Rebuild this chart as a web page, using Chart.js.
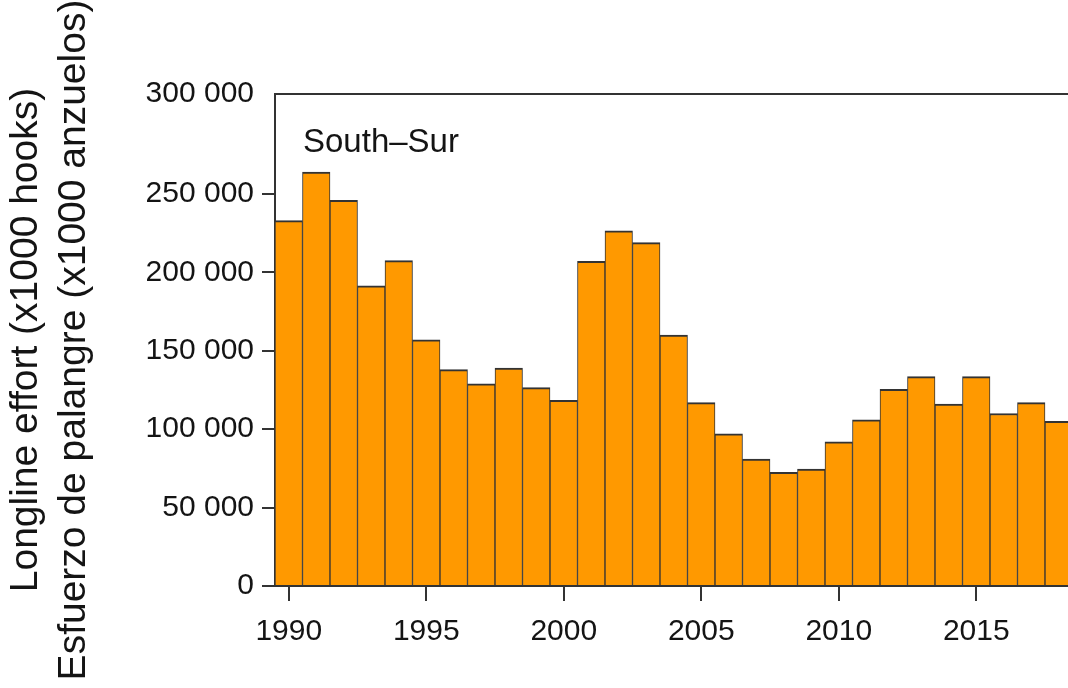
<!DOCTYPE html>
<html>
<head>
<meta charset="utf-8">
<script src="https://cdn.jsdelivr.net/npm/chart.js@4.4.1/dist/chart.umd.min.js"></script>
<style>
  html, body { margin: 0; padding: 0; background: #fff; overflow: hidden; }
  #wrap { width: 1100px; height: 688px; }
</style>
</head>
<body>
<div id="wrap"><canvas id="chart" width="1100" height="688"></canvas></div>
<script>
// Longline effort by year, southern area (thousands of hooks)
const years = [1990, 1991, 1992, 1993, 1994, 1995, 1996, 1997, 1998, 1999,
               2000, 2001, 2002, 2003, 2004, 2005, 2006, 2007, 2008, 2009,
               2010, 2011, 2012, 2013, 2014, 2015, 2016, 2017, 2018];
const effort = [233000, 264000, 246000, 191500, 207500, 157000, 138000, 129000, 139000, 126500,
                118500, 207000, 226500, 219000, 160000, 117000, 97000, 81000, 72500, 74500,
                92000, 106000, 125500, 133500, 116000, 133500, 110000, 117000, 105000];

// Axis ticks
const xTickYears = [1990, 1995, 2000, 2005, 2010, 2015];
const yTickValues = [0, 50000, 100000, 150000, 200000, 250000];
const yTickLabels = ['0', '50 000', '100 000', '150 000', '200 000', '250 000'];
const yTopValue = 313800;      // top edge of the panel
const yTopLabel = '300 000';   // label printed at the top edge

const panelLabel = 'South\u2013Sur';
const yTitle = ['Longline effort (x1000 hooks)', 'Esfuerzo de palangre (x1000 anzuelos)'];

const FONT = "'Liberation Sans', Arial, Helvetica, sans-serif";
const ink = '#141414';
const axisColor = '#333333';

// Top frame line and the panel name inside the plot
const panelDecor = {
  id: 'panelDecor',
  afterDraw(chart) {
    const { ctx, chartArea: a } = chart;
    ctx.save();
    ctx.strokeStyle = axisColor;
    ctx.lineWidth = 2;
    ctx.beginPath();
    ctx.moveTo(a.left - 1, a.top);
    ctx.lineTo(a.right, a.top);
    ctx.stroke();
    ctx.fillStyle = ink;
    ctx.font = '33px ' + FONT;
    ctx.textBaseline = 'alphabetic';
    ctx.textAlign = 'left';
    ctx.fillText(panelLabel, a.left + 28, a.top + 58);
    ctx.restore();
  }
};

new Chart(document.getElementById('chart'), {
  type: 'bar',
  data: {
    labels: years.map(String),
    datasets: [{
      data: effort,
      backgroundColor: '#ff9900',
      borderColor: '#333333',
      borderWidth: { top: 2, left: 1, right: 1, bottom: 0 },
      categoryPercentage: 1,
      barPercentage: 1
    }]
  },
  options: {
    responsive: false,
    animation: false,
    devicePixelRatio: 1,
    layout: { padding: { left: 0, top: 94, right: 27.5, bottom: 0 } },
    plugins: { legend: { display: false }, tooltip: { enabled: false } },
    scales: {
      x: {
        offset: true,
        z: 1,
        grid: { display: true, drawOnChartArea: false, offset: false, tickLength: 15, lineWidth: 2, color: axisColor },
        border: { display: true, color: axisColor, width: 2 },
        ticks: { autoSkip: false, maxRotation: 0, padding: 13, color: ink, font: { family: FONT, size: 30 } },
        afterBuildTicks(scale) {
          scale.ticks = scale.ticks.filter(t => xTickYears.includes(years[t.value]));
        },
        afterFit(scale) { scale.height = 102; }
      },
      y: {
        min: 0,
        max: yTopValue,
        z: 1,
        afterBuildTicks(scale) {
          scale.ticks = yTickValues.map(v => ({ value: v })).concat([{ value: yTopValue }]);
        },
        ticks: {
          padding: 8,
          color: ink,
          font: { family: FONT, size: 30 },
          callback: (v) => v === yTopValue ? yTopLabel : yTickLabels[yTickValues.indexOf(v)]
        },
        grid: {
          drawOnChartArea: false,
          tickLength: 13,
          lineWidth: 2,
          color: (c) => (c.tick && c.tick.value === yTopValue) ? 'rgba(0,0,0,0)' : axisColor
        },
        border: { display: true, color: axisColor, width: 2 },
        title: {
          display: true,
          text: yTitle,
          color: ink,
          font: { family: FONT, size: 39, lineHeight: 1.24 },
          padding: { top: 2, bottom: 0 }
        },
        afterFit(scale) { scale.width = 275; }
      }
    }
  },
  plugins: [panelDecor]
});
</script>
</body>
</html>
